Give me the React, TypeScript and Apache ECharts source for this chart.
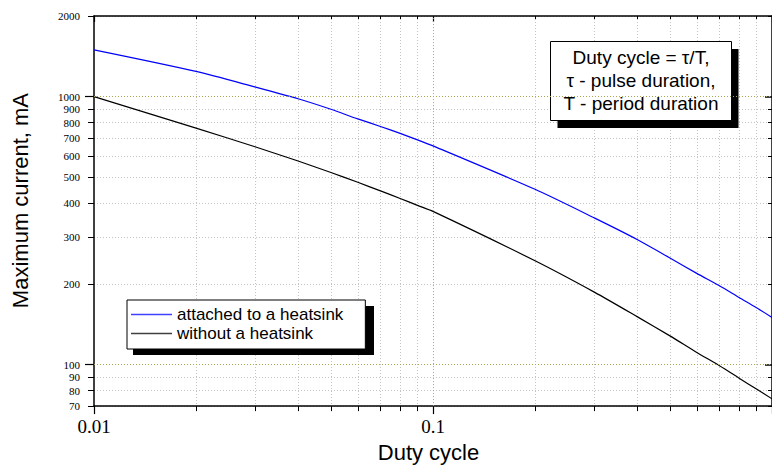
import React, { useEffect, useRef } from "react";
import * as echarts from "echarts";

const dutyCycle = [0.01, 0.02, 0.03, 0.04, 0.05, 0.06, 0.07, 0.08, 0.09, 0.1, 0.2, 0.3, 0.4, 0.5, 0.6, 0.7, 0.8, 0.9, 1.0];
const withHeatsink = [1495, 1242, 1085, 982, 897, 826, 774, 729, 690, 655, 451, 352, 293, 250, 219, 197, 178, 163, 150];
const withoutHeatsink = [1000, 763, 649, 575, 521, 479, 445, 417, 393, 373, 244, 186, 151, 128, 111, 99, 89, 81, 74.5];

const seriesNames = ["attached to a heatsink", "without a heatsink"];

const yTickLabels = [70, 80, 90, 100, 200, 300, 400, 500, 600, 700, 800, 900, 1000, 2000];
const yMinorTicks = [70, 80, 90, 200, 300, 400, 500, 600, 700, 800, 900, 2000];
const yMajorTicks = [100, 1000];
const xTickLabels = [0.01, 0.1];
const xMinorTicks = [0.02, 0.03, 0.04, 0.05, 0.06, 0.07, 0.08, 0.09, 0.2, 0.3, 0.4, 0.5, 0.6, 0.7, 0.8, 0.9];
const xMajorTicks = [0.01, 0.1, 1];
const olivePlotLinesX = [0.1];
const olivePlotLinesY = [100, 1000];

const annotationText = "Duty cycle = \u03c4/T,\n\u03c4 - pulse duration,\nT - period duration";

const X_MIN = 0.01, X_MAX = 1, Y_MIN = 70, Y_MAX = 2000;

export default function App() {
  const ref = useRef<HTMLDivElement>(null);
  useEffect(() => {
    if (!ref.current) return;
    const chart = echarts.init(ref.current, undefined, { renderer: "svg" });
    const sans = "Liberation Sans, Arial, sans-serif";
    const serif = "Liberation Serif, Times New Roman, serif";
    const axisLine = { show: true, onZero: false, lineStyle: { color: "#000", width: 1.5 } };
    const gray = { show: true, lineStyle: { color: "#c4c4c4", type: [1, 2], width: 1 } };

    const baseX = { type: "log", min: X_MIN, max: X_MAX, logBase: 10 };
    const baseY = { type: "log", min: Y_MIN, max: Y_MAX, logBase: 10 };

    const xAxis = [
      {
        ...baseX, position: "bottom", axisLine,
        axisTick: { show: true, inside: false, length: 5, customValues: xMinorTicks, lineStyle: { color: "#000", width: 1 } },
        axisLabel: { show: true, customValues: xTickLabels, margin: 11, color: "#000", fontFamily: serif, fontSize: 19, formatter: (v: number) => String(v) },
        splitLine: gray,
        name: "Duty cycle", nameLocation: "middle", nameGap: 33,
        nameTextStyle: { color: "#000", fontFamily: sans, fontSize: 22, padding: [0, 9, 0, 0] },
      },
      {
        ...baseX, position: "bottom", axisLine: { show: false, onZero: false },
        axisTick: { show: true, inside: false, length: 8, customValues: xMajorTicks, lineStyle: { color: "#000", width: 1.2 } },
        axisLabel: { show: false }, splitLine: { show: false },
      },
      {
        ...baseX, position: "top", axisLine,
        axisTick: { show: true, inside: true, length: 3, customValues: xMinorTicks, lineStyle: { color: "#000", width: 1 } },
        axisLabel: { show: false }, splitLine: { show: false },
      },
      {
        ...baseX, position: "top", axisLine: { show: false, onZero: false },
        axisTick: { show: true, inside: true, length: 6, customValues: xMajorTicks, lineStyle: { color: "#000", width: 1.2 } },
        axisLabel: { show: false }, splitLine: { show: false },
      },
    ];

    const yAxis = [
      {
        ...baseY, position: "left", axisLine,
        axisTick: { show: true, inside: false, length: 6, customValues: yMinorTicks, lineStyle: { color: "#000", width: 1 } },
        axisLabel: { show: true, customValues: yTickLabels, margin: 14, color: "#000", fontFamily: serif, fontSize: 11, formatter: (v: number) => String(Math.round(v)) },
        splitLine: gray,
        name: "Maximum current, mA", nameLocation: "middle", nameGap: 63,
        nameTextStyle: { color: "#000", fontFamily: sans, fontSize: 22, padding: [0, 0, 0, 21] },
      },
      {
        ...baseY, position: "left", axisLine: { show: false, onZero: false },
        axisTick: { show: true, inside: false, length: 9, customValues: yMajorTicks, lineStyle: { color: "#000", width: 1.2 } },
        axisLabel: { show: false }, splitLine: { show: false },
      },
      {
        ...baseY, position: "right", axisLine,
        axisTick: { show: true, inside: true, length: 4, customValues: yMinorTicks, lineStyle: { color: "#000", width: 1 } },
        axisLabel: { show: false }, splitLine: { show: false },
      },
      {
        ...baseY, position: "right", axisLine: { show: false, onZero: false },
        axisTick: { show: true, inside: true, length: 7, customValues: yMajorTicks, lineStyle: { color: "#000", width: 1.5 } },
        axisLabel: { show: false }, splitLine: { show: false },
      },
    ];

    const olive = { color: "#a8a850", type: [1, 2], width: 1 };

    chart.setOption({
      animation: false,
      backgroundColor: "#fff",
      grid: { left: 94, top: 16, width: 682, height: 391, containLabel: false },
      xAxis,
      yAxis,
      legend: {
        orient: "vertical",
        left: 127, top: 300,
        icon: "rect",
        itemWidth: 41, itemHeight: 1.3, itemGap: 2,
        padding: [6, 22, 7, 4],
        backgroundColor: "#fff",
        borderColor: "#000", borderWidth: 1,
        itemStyle: { opacity: 0.75 },
        textStyle: { color: "#000", fontFamily: sans, fontSize: 17 },
        data: seriesNames,
        selectedMode: false,
        z: 10,
      },
      graphic: [
        { type: "rect", z: 1, shape: { x: 133, y: 306, width: 241, height: 49 }, style: { fill: "#000" } },
        { type: "rect", z: 1, shape: { x: 557.5, y: 49, width: 181, height: 79 }, style: { fill: "#000" } },
        { type: "rect", z: 2, shape: { x: 550.5, y: 41.5, width: 181, height: 79 }, style: { fill: "#fff", stroke: "#000", lineWidth: 1 } },
        {
          type: "text", z: 3, x: 641, y: 80,
          style: { text: annotationText, fill: "#000", font: "19px " + sans, align: "center", verticalAlign: "middle", lineHeight: 23 },
        },
      ],
      series: [
        {
          name: seriesNames[0], type: "line", xAxisIndex: 0, yAxisIndex: 0,
          data: dutyCycle.map((d, i) => [d, withHeatsink[i]]),
          symbol: "none", smooth: 0.25, clip: true,
          lineStyle: { color: "#0000ff", width: 1.2 }, itemStyle: { color: "#0000ff" },
          markLine: {
            silent: true, symbol: "none", label: { show: false },
            lineStyle: olive,
            data: [
              ...olivePlotLinesX.map((v) => ({ xAxis: v })),
              ...olivePlotLinesY.map((v) => ({ yAxis: v })),
            ],
          },
          z: 3,
        },
        {
          name: seriesNames[1], type: "line", xAxisIndex: 0, yAxisIndex: 0,
          data: dutyCycle.map((d, i) => [d, withoutHeatsink[i]]),
          symbol: "none", smooth: 0.25, clip: true,
          lineStyle: { color: "#000", width: 1.2 }, itemStyle: { color: "#000" },
          z: 3,
        },
      ],
    });
    return () => chart.dispose();
  }, []);
  return <div ref={ref} style={{ position: "absolute", left: 0, top: 0, width: 772, height: 468 }} />;
}
